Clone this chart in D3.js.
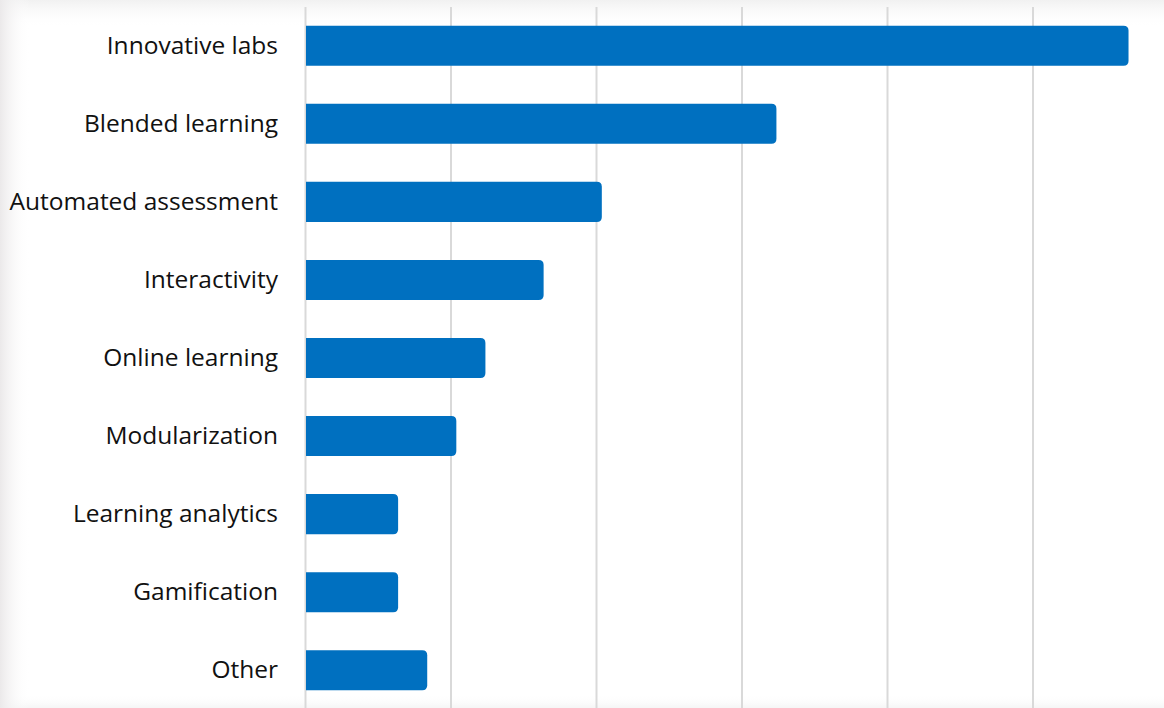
<!DOCTYPE html>
<html>
<head>
<meta charset="utf-8">
<script src="https://cdn.jsdelivr.net/npm/d3@7"></script>
<style>
  body { margin: 0; background: #fff; }
  svg { display: block; }
</style>
</head>
<body>
<svg id="chart" width="1164" height="708"></svg>
<script>
const categories = ["Innovative labs", "Blended learning", "Automated assessment", "Interactivity",
    "Online learning", "Modularization", "Learning analytics", "Gamification", "Other"];
const values = [28.3, 16.2, 10.2, 8.2, 6.2, 5.2, 3.2, 3.2, 4.2];
const gridTicks = [0, 5, 10, 15, 20, 25];

const svg = d3.select("#chart"),
      width = +svg.attr("width"),
      height = +svg.attr("height"),
      margin = {top: 7, right: -14, bottom: -1, left: 305};

// soft gray shading along the edges
const defs = svg.append("defs");
const gl = defs.append("linearGradient").attr("id", "leftShade").attr("x1", 0).attr("x2", 1);
gl.append("stop").attr("offset", 0).attr("stop-color", "#ebe9ea");
gl.append("stop").attr("offset", 1).attr("stop-color", "#fff").attr("stop-opacity", 0);
const gt = defs.append("linearGradient").attr("id", "topShade").attr("x1", 0).attr("x2", 0).attr("y1", 0).attr("y2", 1);
gt.append("stop").attr("offset", 0).attr("stop-color", "#f1f1f1");
gt.append("stop").attr("offset", 1).attr("stop-color", "#fff").attr("stop-opacity", 0);
const gb = defs.append("linearGradient").attr("id", "botShade").attr("x1", 0).attr("x2", 0).attr("y1", 1).attr("y2", 0);
gb.append("stop").attr("offset", 0).attr("stop-color", "#f5f5f5");
gb.append("stop").attr("offset", 1).attr("stop-color", "#fff").attr("stop-opacity", 0);

svg.append("rect").attr("width", width).attr("height", 28).attr("fill", "url(#topShade)");
svg.append("rect").attr("y", height - 14).attr("width", width).attr("height", 14).attr("fill", "url(#botShade)");
svg.append("rect").attr("width", 30).attr("height", height).attr("fill", "url(#leftShade)");

const x = d3.scaleLinear().domain([0, 30]).range([margin.left, width - margin.right]);
const y = d3.scaleBand().domain(categories).range([margin.top, height - margin.bottom]).paddingInner(0.487).paddingOuter(0.24);

// gridlines
const xAxis = d3.axisBottom(x)
    .tickValues(gridTicks)
    .tickSize(-(height - margin.top))
    .tickFormat("");

svg.append("g")
    .attr("transform", `translate(0,${height})`)
    .call(xAxis)
    .call(g => g.select(".domain").remove())
    .call(g => g.selectAll(".tick line").attr("stroke", "#d9d9d9").attr("stroke-width", 2));

// bars, rounded on the right end only
const r = 5;
svg.append("g").selectAll("path")
    .data(categories)
    .join("path")
    .attr("fill", "#0070c0")
    .attr("d", (d, i) => {
        const x0 = x(0) + 1, x1 = x(values[i]), y0 = y(d), y1 = y(d) + y.bandwidth();
        return `M${x0},${y0}H${x1 - r}Q${x1},${y0} ${x1},${y0 + r}V${y1 - r}Q${x1},${y1} ${x1 - r},${y1}H${x0}Z`;
    });

// category labels
const yAxis = d3.axisLeft(y).tickSize(0).tickPadding(27);
svg.append("g")
    .attr("transform", `translate(${margin.left},0)`)
    .call(yAxis)
    .call(g => g.select(".domain").remove())
    .call(g => g.selectAll("text")
        .attr("font-family", "'Open Sans', sans-serif")
        .attr("font-size", 24.5)
        .attr("fill", "#111"));
</script>
</body>
</html>
